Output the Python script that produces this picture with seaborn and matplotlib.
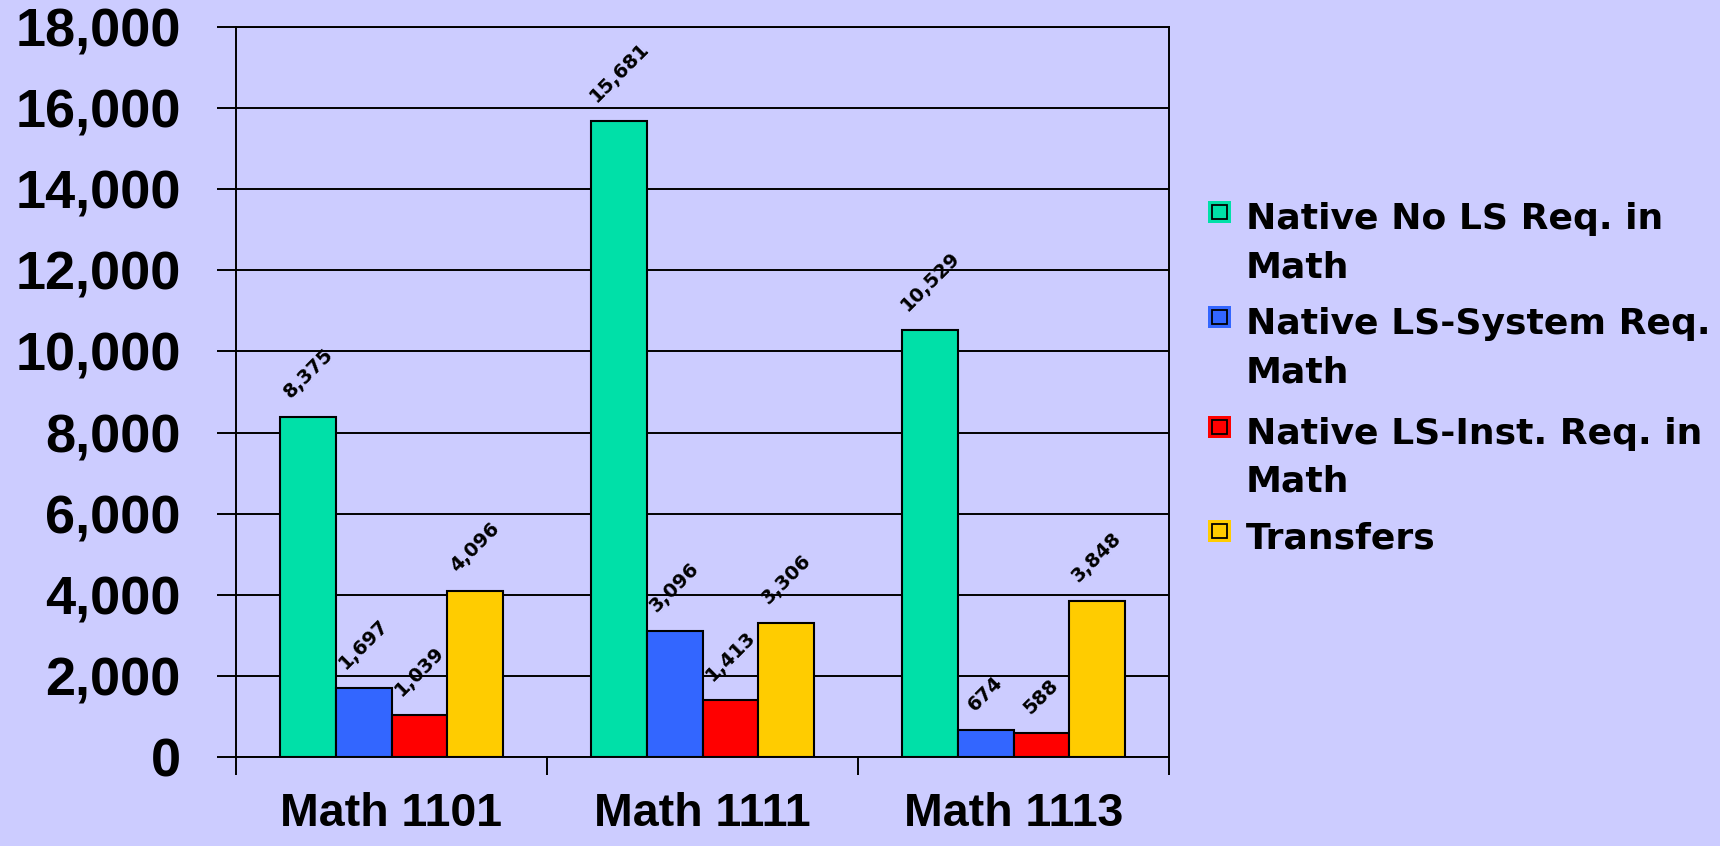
import matplotlib
matplotlib.use("Agg")
import matplotlib.pyplot as plt
from matplotlib.patches import Rectangle
import seaborn as sns
import pandas as pd

courses = ["Math 1101", "Math 1111", "Math 1113"]
groups = ["Native No LS Req. in\nMath",
          "Native LS-System Req.\nMath",
          "Native LS-Inst. Req. in\nMath",
          "Transfers"]
no_ls = [8375, 15681, 10529]
ls_system = [1697, 3096, 674]
ls_inst = [1039, 1413, 588]
transfers = [4096, 3306, 3848]
y_ticks = [0, 2000, 4000, 6000, 8000, 10000, 12000, 14000, 16000, 18000]

colors = ["#00E0A8", "#3366FF", "#FF0000", "#FFCC00"]
bg = "#CCCCFF"
W, H = 1720, 846

rows = []
for g, vals in zip(groups, [no_ls, ls_system, ls_inst, transfers]):
    for c, v in zip(courses, vals):
        rows.append({"course": c, "group": g, "value": v})
df = pd.DataFrame(rows)

sns.set_theme(style="white")
fig = plt.figure(figsize=(W / 100, H / 100), dpi=100, facecolor=bg)
ax = fig.add_axes([236 / W, 1 - 757 / H, (1169 - 236) / W, (757 - 27) / H])
ax.set_facecolor(bg)
ax.set_axisbelow(True)

sns.barplot(data=df, x="course", y="value", hue="group", order=courses,
            hue_order=groups, palette=colors, saturation=1, width=0.715,
            edgecolor="black", linewidth=1.5, legend=False, ax=ax)

ax.set_xlim(-0.5, 2.5)
ax.set_ylim(0, 18000)
ax.set_xlabel("")
ax.set_ylabel("")
ax.yaxis.grid(True, color="black", linewidth=1.4)

for s in ax.spines.values():
    s.set_visible(True)
    s.set_color("black")
    s.set_linewidth(1.4)

ax.set_yticks(y_ticks, labels=[f"{v:,}" for v in y_ticks], fontsize=39,
              fontweight="bold", fontfamily="Liberation Sans")
ax.set_xticks(range(len(courses)), labels=courses, fontsize=33.5,
              fontweight="bold", fontfamily="Liberation Sans")
ax.set_xticks([-0.5, 0.5, 1.5, 2.5], minor=True)
ax.tick_params(axis="y", left=True, length=13.7, width=1.4, direction="out",
               pad=26, colors="black")
ax.tick_params(axis="x", which="major", bottom=True, length=0, pad=25.5,
               colors="black")
ax.tick_params(axis="x", which="minor", bottom=True, length=13, width=1.4,
               direction="out", colors="black")

# value labels, rotated like the original
for cont in ax.containers:
    ax.bar_label(cont, labels=[f"{v:,.0f}" for v in cont.datavalues],
                 padding=11, rotation=45, fontsize=14, fontweight="bold",
                 family="DejaVu Sans", color="black")

# legend drawn by hand so the swatch sits on the first text line
baselines = [229, 334, 444, 548]
for lab, col, base in zip(groups, colors, baselines):
    top = base - 28
    fig.patches.append(Rectangle((1208 / W, 1 - (top + 22) / H), 23 / W, 22 / H,
                                 transform=fig.transFigure, facecolor=col,
                                 edgecolor="none"))
    fig.patches.append(Rectangle((1212 / W, 1 - (top + 18) / H), 15 / W, 14 / H,
                                 transform=fig.transFigure, facecolor=col,
                                 edgecolor="black", linewidth=1.3))
    for i, line in enumerate(lab.split("\n")):
        fig.text(1246 / W, 1 - (base + 48 * i) / H, line, fontsize=26,
                 fontweight="bold", family="DejaVu Sans", color="black",
                 va="baseline", ha="left")

fig.savefig("out.png", dpi=100, facecolor=bg)
